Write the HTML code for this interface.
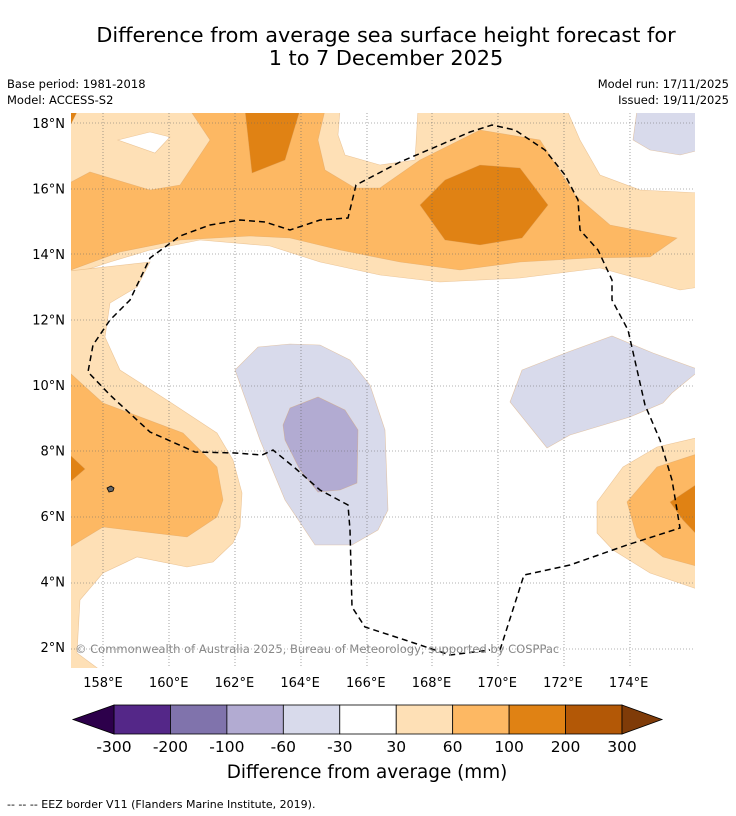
<!DOCTYPE html>
<html><head><meta charset="utf-8"><style>
body{margin:0;background:#fff;font-family:"DejaVu Sans","Liberation Sans",sans-serif;}
svg{display:block}
</style></head><body>
<svg width="736" height="816" viewBox="0 0 736 816">
<text x="386" y="42" font-size="20.8" text-anchor="middle">Difference from average sea surface height forecast for</text>
<text x="386" y="65" font-size="20.8" text-anchor="middle">1 to 7 December 2025</text>
<text x="7" y="88" font-size="11.5">Base period: 1981-2018</text>
<text x="7" y="104" font-size="11.5">Model: ACCESS-S2</text>
<text x="729" y="88" font-size="11.5" text-anchor="end">Model run: 17/11/2025</text>
<text x="729" y="104" font-size="11.5" text-anchor="end">Issued: 19/11/2025</text>
<defs><clipPath id="mc"><rect x="71" y="113" width="624" height="555"/></clipPath></defs>
<g clip-path="url(#mc)">
<rect x="71" y="113" width="624" height="555" fill="#fff"/>
<g stroke="#d9a060" stroke-width="0.6" stroke-opacity="0.5">
<path fill="#fee0b6" d="M60,100 L700,100 L700,287 L680,290 L600,268 L520,278 L440,282 L380,275 L320,262 L270,246 L200,240 L150,250 L110,262 L71,275 L60,278 Z"/>
<path fill="#fee0b6" d="M60,272 L150,262 L137,287 L110,303 L105,337 L120,370 L170,402 L217,433 L233,460 L242,493 L240,527 L233,543 L213,562 L187,567 L137,557 L103,573 L80,600 L77,653 L100,670 L60,670 Z"/>
<path fill="#fee0b6" d="M700,437 L657,447 L623,467 L597,502 L597,533 L613,550 L650,573 L700,590 Z"/>
<path fill="#fff" d="M340,110 L418,110 L415,160 L380,165 L345,155 L338,135 Z"/>
<path fill="#fff" d="M567,110 L700,110 L700,193 L640,190 L600,175 L580,140 Z"/>
<path fill="#fdb863" d="M60,188 L90,172 L150,190 L180,185 L210,140 L190,110 L325,110 L318,140 L325,170 L355,188 L380,188 L420,160 L480,130 L540,140 L575,195 L610,225 L677,238 L650,257 L590,258 L520,262 L460,270 L400,262 L340,250 L290,238 L250,236 L180,240 L120,252 L60,274 Z"/>
<path fill="#fdb863" d="M60,365 L70,373 L103,403 L183,433 L217,467 L223,500 L217,517 L187,537 L103,527 L70,547 L60,550 Z"/>
<path fill="#fdb863" d="M700,453 L657,467 L627,502 L637,537 L663,557 L700,567 Z"/>
<path fill="#e08214" d="M245,110 L300,110 L285,160 L252,173 Z"/>
<path fill="#e08214" d="M420,205 L445,180 L480,165 L520,168 L548,205 L522,238 L480,245 L445,240 Z"/>
<path fill="#e08214" d="M60,455 L70,455 L85,469 L70,482 L60,482 Z"/>
<path fill="#e08214" d="M700,482 L670,502 L683,520 L700,538 Z"/>
<path fill="#e08214" d="M60,110 L78,110 L71,124 L60,124 Z"/>
<path fill="#fff" d="M118,140 L150,132 L170,137 L155,153 Z"/>
<path fill="#d8daeb" d="M637,110 L700,110 L700,150 L680,155 L650,150 L633,140 Z"/>
<path fill="#d8daeb" d="M235,370 L258,347 L290,344 L320,345 L350,360 L370,385 L385,430 L388,510 L378,530 L352,545 L315,545 L285,500 L260,440 Z"/>
<path fill="#b2abd2" d="M283,425 L290,408 L318,397 L345,410 L358,430 L357,483 L340,490 L318,492 L300,470 L285,440 Z"/>
<path fill="#d8daeb" d="M522,370 L568,352 L612,336 L653,353 L700,370 L672,393 L663,403 L630,417 L570,435 L547,448 L510,402 Z"/>
</g>
<g stroke="#666" stroke-width="0.6" stroke-dasharray="1,2">
<path d="M103,113V668M169,113V668M235,113V668M301,113V668M367,113V668M432,113V668M498,113V668M564,113V668M630,113V668"/>
<path d="M71,123H695M71,189H695M71,254H695M71,320H695M71,386H695M71,451H695M71,517H695M71,583H695M71,649H695"/>
</g>
<path fill="none" stroke="#000" stroke-width="1.5" stroke-dasharray="6,4" d="M500,650 L524,575 L570,565 L627,545 L680,528 L672,480 L660,440 L645,405 L628,330 L612,300 L612,280 L598,250 L580,230 L578,200 L565,175 L545,150 L515,130 L492,125 L470,132 L440,145 L400,162 L356,185 L348,218 L320,220 L290,230 L265,222 L240,220 L210,225 L180,236 L150,258 L130,300 L110,320 L93,345 L88,372 L110,395 L150,432 L195,452 L235,453 L262,455 L273,450 L295,468 L320,490 L348,505 L350,530 L352,607 L365,627 L405,640 L450,655 L490,650"/>
<path d="M107,488 l4,-2 l3,2 l-1,3 l-4,1 z" fill="#666" stroke="#000" stroke-width="0.8"/>
<text x="75" y="653" font-size="11.5" fill="#888">© Commonwealth of Australia 2025, Bureau of Meteorology, supported by COSPPac</text>
</g>
<g font-size="13" text-anchor="end" id="ylab"></g>
<g font-size="13" text-anchor="middle" id="xlab"></g>
<g id="cbar"></g>
<text x="367" y="778" font-size="18.4" text-anchor="middle">Difference from average (mm)</text>
<text x="7" y="808" font-size="11">--  --  -- EEZ border V11 (Flanders Marine Institute, 2019).</text>
</svg>
<script>
const latTicks=[18,16,14,12,10,8,6,4,2];
const lonTicks=[158,160,162,164,166,168,170,172,174];
const cbarLabels=["-300","-200","-100","-60","-30","30","60","100","200","300"];
const cbarColors=["#542788","#8073ac","#b2abd2","#d8daeb","#ffffff","#fee0b6","#fdb863","#e08214","#b35806"];
const ns="http://www.w3.org/2000/svg";
function px(lon){return 103+(lon-158)*32.85;}
function py(lat){return 123+(18-lat)*32.75;}
const yl=document.getElementById('ylab'),xl=document.getElementById('xlab'),cb=document.getElementById('cbar');
latTicks.forEach(v=>{const t=document.createElementNS(ns,'text');


t.setAttribute('x',65);t.setAttribute('y',py(v)+5);t.textContent=v+'°N';yl.appendChild(t);});
lonTicks.forEach(v=>{const t=document.createElementNS(ns,'text');


t.setAttribute('x',px(v));t.setAttribute('y',687);t.textContent=v+'°E';xl.appendChild(t);});
const x0=114,x1=622,y0=705,h=29,w=(x1-x0)/cbarColors.length;
cbarColors.forEach((c,i)=>{const r=document.createElementNS(ns,'rect');


r.setAttribute('x',x0+i*w);r.setAttribute('y',y0);r.setAttribute('width',w);r.setAttribute('height',h);
r.setAttribute('fill',c);r.setAttribute('stroke','#000');r.setAttribute('stroke-width','0.8');cb.appendChild(r);});
[[`M${x0},${y0} L73,${y0+h/2} L${x0},${y0+h} Z`,'#2d004b'],[`M${x1},${y0} L662,${y0+h/2} L${x1},${y0+h} Z`,'#7f3b08']].forEach(p=>{
const e=document.createElementNS(ns,'path');


e.setAttribute('d',p[0]);e.setAttribute('fill',p[1]);e.setAttribute('stroke','#000');e.setAttribute('stroke-width','0.8');cb.appendChild(e);});
cbarLabels.forEach((s,i)=>{const t=document.createElementNS(ns,'text');


t.setAttribute('x',x0+i*w);t.setAttribute('y',752);t.setAttribute('font-size','15.5');t.setAttribute('text-anchor','middle');t.textContent=s;cb.appendChild(t);});
</script>
</body></html>
